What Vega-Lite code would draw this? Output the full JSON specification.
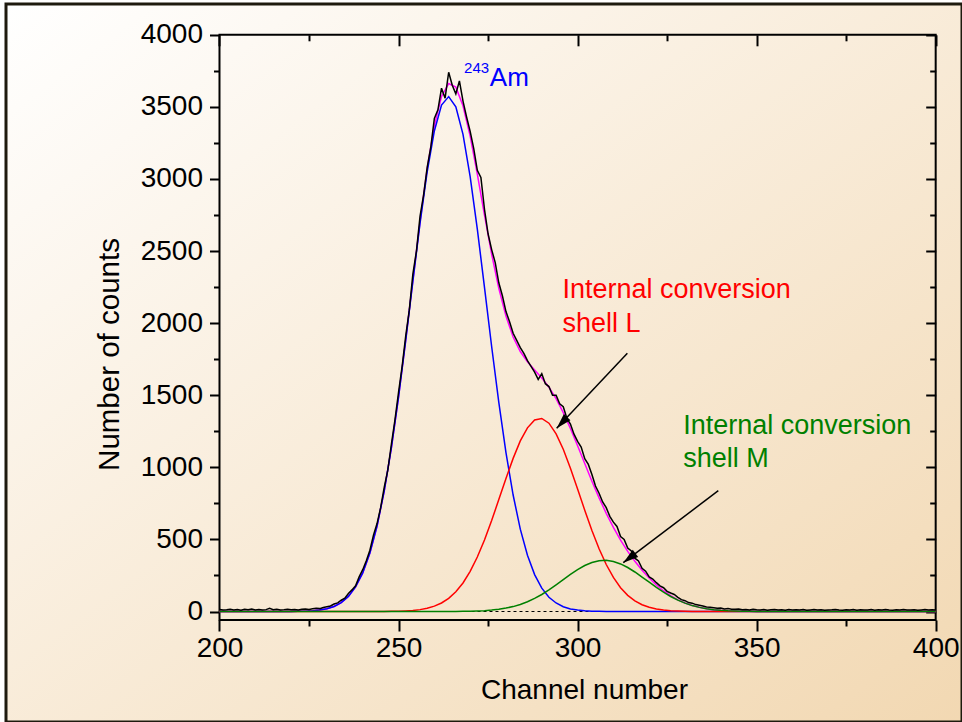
{
  "$schema": "https://vega.github.io/schema/vega-lite/v6.json",
  "width": 956,
  "height": 718,
  "autosize": {"type": "none"},
  "padding": {"left": 6, "top": 4, "right": 0, "bottom": 0},
  "background": "#ffffff",
  "config": {
    "font": "Liberation Sans",
    "view": {
      "stroke": "#1e1a0e",
      "strokeWidth": 3,
      "fill": {"gradient": "linear", "x1": 0, "y1": 0, "x2": 1, "y2": 1,
        "stops": [{"offset": 0, "color": "#ffffff"}, {"offset": 1, "color": "#f2d8b2"}]}
    },
    "axis": {
      "domain": false, "grid": false, "tickColor": "#000000", "tickWidth": 2,
      "labelColor": "#000000", "labelFont": "Liberation Sans", "labelFontSize": 28,
      "titleFont": "Liberation Sans", "titleFontSize": 28, "titleColor": "#000000",
      "titleFontWeight": "normal", "labelOverlap": false, "labelFlush": false
    }
  },
  "datasets": {
    "fits": [
      {"c":200,"am":0,"l":0,"m":0,"fit":0},
      {"c":210,"am":0,"l":0,"m":0,"fit":0},
      {"c":220,"am":0.6,"l":0,"m":0,"fit":0.6},
      {"c":222,"am":1.2,"l":0,"m":0,"fit":1.2},
      {"c":224,"am":2.6,"l":0,"m":0,"fit":2.6},
      {"c":226,"am":5.3,"l":0,"m":0,"fit":5.3},
      {"c":228,"am":10.3,"l":0,"m":0,"fit":10.3},
      {"c":230,"am":19.5,"l":0,"m":0,"fit":19.5},
      {"c":232,"am":35,"l":0,"m":0,"fit":35},
      {"c":234,"am":62,"l":0,"m":0,"fit":62},
      {"c":236,"am":105,"l":0,"m":0,"fit":105},
      {"c":238,"am":171,"l":0,"m":0,"fit":171},
      {"c":240,"am":268,"l":0,"m":0,"fit":268},
      {"c":242,"am":406,"l":0,"m":0,"fit":406},
      {"c":244,"am":593,"l":0,"m":0,"fit":593},
      {"c":246,"am":835,"l":0,"m":0,"fit":835},
      {"c":248,"am":1134,"l":1,"m":0,"fit":1135},
      {"c":250,"am":1487,"l":2,"m":0,"fit":1489},
      {"c":252,"am":1879,"l":4,"m":0,"fit":1883},
      {"c":254,"am":2289,"l":7,"m":0,"fit":2296},
      {"c":256,"am":2691,"l":13,"m":0,"fit":2704},
      {"c":258,"am":3050,"l":22,"m":0,"fit":3072},
      {"c":260,"am":3333,"l":37,"m":0,"fit":3370},
      {"c":262,"am":3513,"l":59,"m":0,"fit":3572},
      {"c":264,"am":3571,"l":91,"m":0,"fit":3662},
      {"c":266,"am":3500,"l":137,"m":0,"fit":3637},
      {"c":268,"am":3309,"l":198,"m":1,"fit":3508},
      {"c":270,"am":3016,"l":279,"m":2,"fit":3297},
      {"c":272,"am":2652,"l":378,"m":4,"fit":3034},
      {"c":274,"am":2248,"l":496,"m":6,"fit":2750},
      {"c":276,"am":1838,"l":631,"m":10,"fit":2479},
      {"c":278,"am":1450,"l":776,"m":16,"fit":2242},
      {"c":280,"am":1102,"l":923,"m":24,"fit":2049},
      {"c":282,"am":808,"l":1062,"m":34,"fit":1904},
      {"c":284,"am":571,"l":1183,"m":49,"fit":1803},
      {"c":286,"am":390,"l":1274,"m":68,"fit":1732},
      {"c":288,"am":256,"l":1328,"m":91,"fit":1675},
      {"c":290,"am":162,"l":1339,"m":118,"fit":1619},
      {"c":292,"am":99,"l":1306,"m":150,"fit":1555},
      {"c":294,"am":59,"l":1232,"m":185,"fit":1476},
      {"c":296,"am":33,"l":1125,"m":221,"fit":1379},
      {"c":298,"am":18,"l":994,"m":257,"fit":1269},
      {"c":300,"am":10,"l":850,"m":290,"fit":1150},
      {"c":302,"am":5,"l":703,"m":319,"fit":1027},
      {"c":304,"am":2,"l":562,"m":340,"fit":904},
      {"c":306,"am":1,"l":435,"m":352,"fit":788},
      {"c":308,"am":0,"l":326,"m":355,"fit":681},
      {"c":310,"am":0,"l":236,"m":347,"fit":583},
      {"c":312,"am":0,"l":165,"m":330,"fit":495},
      {"c":314,"am":0,"l":112,"m":305,"fit":417},
      {"c":316,"am":0,"l":74,"m":274,"fit":348},
      {"c":318,"am":0,"l":47,"m":239,"fit":286},
      {"c":320,"am":0,"l":29,"m":203,"fit":232},
      {"c":322,"am":0,"l":17,"m":167,"fit":184},
      {"c":324,"am":0,"l":10,"m":134,"fit":144},
      {"c":326,"am":0,"l":5.5,"m":104,"fit":110},
      {"c":328,"am":0,"l":3,"m":78.5,"fit":81},
      {"c":330,"am":0,"l":1.5,"m":58,"fit":59},
      {"c":332,"am":0,"l":0.7,"m":41,"fit":42},
      {"c":334,"am":0,"l":0.3,"m":28.5,"fit":29},
      {"c":336,"am":0,"l":0,"m":19,"fit":19},
      {"c":338,"am":0,"l":0,"m":12.6,"fit":12.6},
      {"c":340,"am":0,"l":0,"m":8,"fit":8},
      {"c":342,"am":0,"l":0,"m":4.9,"fit":4.9},
      {"c":344,"am":0,"l":0,"m":3,"fit":3},
      {"c":346,"am":0,"l":0,"m":1.7,"fit":1.7},
      {"c":348,"am":0,"l":0,"m":1,"fit":1},
      {"c":350,"am":0,"l":0,"m":0.5,"fit":0.5},
      {"c":360,"am":0,"l":0,"m":0,"fit":0},
      {"c":380,"am":0,"l":0,"m":0,"fit":0},
      {"c":400,"am":0,"l":0,"m":0,"fit":0}
    ],
    "obs": [
      {"c":200,"n":14},{"c":201,"n":10},{"c":202,"n":12},{"c":203,"n":16},{"c":204,"n":11},
      {"c":205,"n":13},{"c":206,"n":9},{"c":207,"n":15},{"c":208,"n":12},{"c":209,"n":18},
      {"c":210,"n":11},{"c":211,"n":14},{"c":212,"n":10},{"c":213,"n":13},{"c":214,"n":22},
      {"c":215,"n":12},{"c":216,"n":15},{"c":217,"n":11},{"c":218,"n":13},{"c":219,"n":16},
      {"c":220,"n":12},{"c":221,"n":14},{"c":222,"n":11},{"c":223,"n":15},{"c":224,"n":17},
      {"c":225,"n":14},{"c":226,"n":19},{"c":227,"n":22},{"c":228,"n":20},{"c":229,"n":28},
      {"c":230,"n":33},{"c":231,"n":38},{"c":232,"n":52},{"c":233,"n":60},{"c":234,"n":78},
      {"c":235,"n":92},{"c":236,"n":125},{"c":237,"n":150},{"c":238,"n":178},{"c":239,"n":240},
      {"c":240,"n":290},{"c":241,"n":352},{"c":242,"n":425},{"c":243,"n":530},{"c":244,"n":610},
      {"c":245,"n":720},{"c":246,"n":860},{"c":247,"n":980},{"c":248,"n":1160},{"c":249,"n":1330},
      {"c":250,"n":1520},{"c":251,"n":1700},{"c":252,"n":1910},{"c":253,"n":2090},{"c":254,"n":2340},
      {"c":255,"n":2500},{"c":256,"n":2740},{"c":257,"n":2890},{"c":258,"n":3080},{"c":259,"n":3220},
      {"c":260,"n":3420},{"c":261,"n":3480},{"c":262,"n":3630},{"c":263,"n":3560},{"c":264,"n":3740},
      {"c":265,"n":3650},{"c":266,"n":3590},{"c":267,"n":3680},{"c":268,"n":3540},{"c":269,"n":3430},
      {"c":270,"n":3330},{"c":271,"n":3210},{"c":272,"n":3060},{"c":273,"n":3010},{"c":274,"n":2790},
      {"c":275,"n":2620},{"c":276,"n":2510},{"c":277,"n":2420},{"c":278,"n":2280},{"c":279,"n":2190},
      {"c":280,"n":2080},{"c":281,"n":2010},{"c":282,"n":1930},{"c":283,"n":1880},{"c":284,"n":1830},
      {"c":285,"n":1790},{"c":286,"n":1740},{"c":287,"n":1700},{"c":288,"n":1660},{"c":289,"n":1610},
      {"c":290,"n":1650},{"c":291,"n":1580},{"c":292,"n":1560},{"c":293,"n":1500},{"c":294,"n":1500},
      {"c":295,"n":1440},{"c":296,"n":1420},{"c":297,"n":1340},{"c":298,"n":1300},{"c":299,"n":1230},
      {"c":300,"n":1180},{"c":301,"n":1140},{"c":302,"n":1060},{"c":303,"n":1020},{"c":304,"n":950},
      {"c":305,"n":870},{"c":306,"n":820},{"c":307,"n":760},{"c":308,"n":720},{"c":309,"n":660},
      {"c":310,"n":620},{"c":311,"n":590},{"c":312,"n":520},{"c":313,"n":500},{"c":314,"n":440},
      {"c":315,"n":420},{"c":316,"n":370},{"c":317,"n":350},{"c":318,"n":300},{"c":319,"n":280},
      {"c":320,"n":240},{"c":321,"n":225},{"c":322,"n":200},{"c":323,"n":178},{"c":324,"n":165},
      {"c":325,"n":140},{"c":326,"n":128},{"c":327,"n":118},{"c":328,"n":98},{"c":329,"n":82},
      {"c":330,"n":75},{"c":331,"n":62},{"c":332,"n":58},{"c":333,"n":48},{"c":334,"n":44},
      {"c":335,"n":38},{"c":336,"n":32},{"c":337,"n":30},{"c":338,"n":26},{"c":339,"n":22},
      {"c":340,"n":24},{"c":341,"n":18},{"c":342,"n":20},{"c":343,"n":16},{"c":344,"n":15},
      {"c":345,"n":18},{"c":346,"n":13},{"c":347,"n":14},{"c":348,"n":11},{"c":349,"n":15},
      {"c":350,"n":12},{"c":351,"n":11},{"c":352,"n":13},{"c":353,"n":9},{"c":354,"n":12},
      {"c":355,"n":14},{"c":356,"n":10},{"c":357,"n":12},{"c":358,"n":8},{"c":359,"n":13},
      {"c":360,"n":11},{"c":361,"n":12},{"c":362,"n":10},{"c":363,"n":14},{"c":364,"n":9},
      {"c":365,"n":11},{"c":366,"n":13},{"c":367,"n":10},{"c":368,"n":12},{"c":369,"n":9},
      {"c":370,"n":11},{"c":371,"n":12},{"c":372,"n":14},{"c":373,"n":10},{"c":374,"n":8},
      {"c":375,"n":12},{"c":376,"n":11},{"c":377,"n":13},{"c":378,"n":9},{"c":379,"n":12},
      {"c":380,"n":10},{"c":381,"n":11},{"c":382,"n":13},{"c":383,"n":9},{"c":384,"n":12},
      {"c":385,"n":10},{"c":386,"n":14},{"c":387,"n":11},{"c":388,"n":9},{"c":389,"n":12},
      {"c":390,"n":10},{"c":391,"n":13},{"c":392,"n":11},{"c":393,"n":10},{"c":394,"n":12},
      {"c":395,"n":9},{"c":396,"n":11},{"c":397,"n":13},{"c":398,"n":10},{"c":399,"n":12},
      {"c":400,"n":11}
    ],
    "notes": [
      {"k":"sup","t":"243","c":268.3,"v":3733},
      {"k":"am","t":"Am","c":275.5,"v":3645},
      {"k":"L","t":"Internal conversion","c":295.8,"v":2172},
      {"k":"L","t":"shell L","c":295.8,"v":1941},
      {"k":"M","t":"Internal conversion","c":329.5,"v":1231},
      {"k":"M","t":"shell M","c":329.5,"v":1004}
    ],
    "arrows": [
      {"id":"L","c":313.9,"v":1791,"c2":294.16,"v2":1270.6},
      {"id":"M","c":339.3,"v":838,"c2":312.76,"v2":338.5}
    ]
  },
  "resolve": {"axis": {"x": "independent", "y": "independent"}},
  "layer": [
    {
      "data": {"values": [{}]},
      "mark": {"type": "rect", "fill": "transparent", "stroke": "#000000", "strokeWidth": 2},
      "encoding": {
        "x": {"datum": 200, "type": "quantitative",
          "scale": {"domain": [140.38, 407.35], "nice": false, "zero": false},
          "axis": {"orient": "bottom", "offset": -102, "values": [200, 250, 300, 350, 400], "tickSize": 11,
            "labelPadding": 3, "format": "d", "title": "Channel number", "titleX": 578, "titleY": 78,
            "titleBaseline": "alphabetic", "titleAlign": "center"}},
        "x2": {"datum": 400},
        "y": {"datum": -59, "type": "quantitative",
          "scale": {"domain": [-766.4, 4213.5], "nice": false, "zero": false},
          "axis": {"orient": "left", "offset": -213.5, "values": [0, 500, 1000, 1500, 2000, 2500, 3000, 3500, 4000],
            "tickSize": 10, "labelPadding": 7, "format": "d", "title": "Number of counts", "titleFontSize": 29.5,
            "titleX": -101.5, "titleY": 350, "titleBaseline": "alphabetic", "titleAngle": -90, "titleAlign": "center"}},
        "y2": {"datum": 4000}
      }
    },
    {
      "data": {"values": [{}]},
      "mark": {"type": "rule", "color": "#000000", "strokeWidth": 1, "strokeDash": [3, 3]},
      "encoding": {
        "x": {"datum": 200, "type": "quantitative",
          "scale": {"domain": [140.38, 407.35], "nice": false, "zero": false},
          "axis": {"orient": "bottom", "offset": -102, "values": [225, 275, 325, 375], "tickSize": 6, "labels": false, "title": null}},
        "x2": {"datum": 400},
        "y": {"datum": 0, "type": "quantitative",
          "scale": {"domain": [-766.4, 4213.5], "nice": false, "zero": false},
          "axis": {"orient": "left", "offset": -213.5, "values": [250, 750, 1250, 1750, 2250, 2750, 3250, 3750], "tickSize": 6, "labels": false, "title": null}}
      }
    },
    {
      "data": {"name": "fits"},
      "mark": {"type": "line", "color": "#ff00ff", "strokeWidth": 1.5},
      "encoding": {
        "x": {"field": "c", "type": "quantitative",
          "scale": {"domain": [140.38, 407.35], "nice": false, "zero": false},
          "axis": {"orient": "top", "offset": -30.8, "values": [200, 250, 300, 350, 400], "tickSize": -11, "labels": false, "title": null}},
        "y": {"field": "fit", "type": "quantitative",
          "scale": {"domain": [-766.4, 4213.5], "nice": false, "zero": false},
          "axis": {"orient": "right", "offset": -26.3, "values": [0, 500, 1000, 1500, 2000, 2500, 3000, 3500, 4000], "tickSize": -10, "labels": false, "title": null}}
      }
    },
    {
      "data": {"name": "fits"},
      "mark": {"type": "line", "color": "#0000ff", "strokeWidth": 1.5},
      "encoding": {
        "x": {"field": "c", "type": "quantitative",
          "scale": {"domain": [140.38, 407.35], "nice": false, "zero": false},
          "axis": {"orient": "top", "offset": -30.8, "values": [225, 275, 325, 375], "tickSize": -6, "labels": false, "title": null}},
        "y": {"field": "am", "type": "quantitative",
          "scale": {"domain": [-766.4, 4213.5], "nice": false, "zero": false},
          "axis": {"orient": "right", "offset": -26.3, "values": [250, 750, 1250, 1750, 2250, 2750, 3250, 3750], "tickSize": -6, "labels": false, "title": null}}
      }
    },
    {
      "data": {"name": "fits"},
      "mark": {"type": "line", "color": "#ff0000", "strokeWidth": 1.5},
      "encoding": {
        "x": {"field": "c", "type": "quantitative", "scale": {"domain": [140.38, 407.35], "nice": false, "zero": false}, "axis": null},
        "y": {"field": "l", "type": "quantitative", "scale": {"domain": [-766.4, 4213.5], "nice": false, "zero": false}, "axis": null}
      }
    },
    {
      "data": {"name": "fits"},
      "mark": {"type": "line", "color": "#008000", "strokeWidth": 1.5},
      "encoding": {
        "x": {"field": "c", "type": "quantitative", "scale": {"domain": [140.38, 407.35], "nice": false, "zero": false}, "axis": null},
        "y": {"field": "m", "type": "quantitative", "scale": {"domain": [-766.4, 4213.5], "nice": false, "zero": false}, "axis": null}
      }
    },
    {
      "data": {"name": "obs"},
      "mark": {"type": "line", "color": "#000000", "strokeWidth": 1.5},
      "encoding": {
        "x": {"field": "c", "type": "quantitative", "scale": {"domain": [140.38, 407.35], "nice": false, "zero": false}, "axis": null},
        "y": {"field": "n", "type": "quantitative", "scale": {"domain": [-766.4, 4213.5], "nice": false, "zero": false}, "axis": null}
      }
    },
    {
      "data": {"name": "arrows"},
      "mark": {"type": "rule", "color": "#000000", "strokeWidth": 1.5},
      "encoding": {
        "x": {"field": "c", "type": "quantitative", "scale": {"domain": [140.38, 407.35], "nice": false, "zero": false}, "axis": null},
        "y": {"field": "v", "type": "quantitative", "scale": {"domain": [-766.4, 4213.5], "nice": false, "zero": false}, "axis": null},
        "x2": {"field": "c2"},
        "y2": {"field": "v2"}
      }
    },
    {
      "data": {"name": "arrows"},
      "transform": [{"filter": "datum.id === 'L'"}],
      "mark": {"type": "point", "shape": "M0,0L0.5,1.7L-0.5,1.7Z", "size": 324, "filled": true, "color": "#000000", "opacity": 1, "strokeWidth": 0, "angle": 223.3},
      "encoding": {
        "x": {"field": "c2", "type": "quantitative", "scale": {"domain": [140.38, 407.35], "nice": false, "zero": false}, "axis": null},
        "y": {"field": "v2", "type": "quantitative", "scale": {"domain": [-766.4, 4213.5], "nice": false, "zero": false}, "axis": null}
      }
    },
    {
      "data": {"name": "arrows"},
      "transform": [{"filter": "datum.id === 'M'"}],
      "mark": {"type": "point", "shape": "M0,0L0.5,1.7L-0.5,1.7Z", "size": 324, "filled": true, "color": "#000000", "opacity": 1, "strokeWidth": 0, "angle": 232.8},
      "encoding": {
        "x": {"field": "c2", "type": "quantitative", "scale": {"domain": [140.38, 407.35], "nice": false, "zero": false}, "axis": null},
        "y": {"field": "v2", "type": "quantitative", "scale": {"domain": [-766.4, 4213.5], "nice": false, "zero": false}, "axis": null}
      }
    },
    {
      "data": {"name": "notes"},
      "transform": [{"filter": "datum.k === 'sup'"}],
      "mark": {"type": "text", "align": "left", "baseline": "alphabetic", "font": "Liberation Sans", "fontSize": 15, "color": "#0000ff"},
      "encoding": {
        "x": {"field": "c", "type": "quantitative", "scale": {"domain": [140.38, 407.35], "nice": false, "zero": false}, "axis": null},
        "y": {"field": "v", "type": "quantitative", "scale": {"domain": [-766.4, 4213.5], "nice": false, "zero": false}, "axis": null},
        "text": {"field": "t"}
      }
    },
    {
      "data": {"name": "notes"},
      "transform": [{"filter": "datum.k === 'am'"}],
      "mark": {"type": "text", "align": "left", "baseline": "alphabetic", "font": "Liberation Sans", "fontSize": 26, "color": "#0000ff"},
      "encoding": {
        "x": {"field": "c", "type": "quantitative", "scale": {"domain": [140.38, 407.35], "nice": false, "zero": false}, "axis": null},
        "y": {"field": "v", "type": "quantitative", "scale": {"domain": [-766.4, 4213.5], "nice": false, "zero": false}, "axis": null},
        "text": {"field": "t"}
      }
    },
    {
      "data": {"name": "notes"},
      "transform": [{"filter": "datum.k === 'L'"}],
      "mark": {"type": "text", "align": "left", "baseline": "alphabetic", "font": "Liberation Sans", "fontSize": 27, "color": "#ff0000"},
      "encoding": {
        "x": {"field": "c", "type": "quantitative", "scale": {"domain": [140.38, 407.35], "nice": false, "zero": false}, "axis": null},
        "y": {"field": "v", "type": "quantitative", "scale": {"domain": [-766.4, 4213.5], "nice": false, "zero": false}, "axis": null},
        "text": {"field": "t"}
      }
    },
    {
      "data": {"name": "notes"},
      "transform": [{"filter": "datum.k === 'M'"}],
      "mark": {"type": "text", "align": "left", "baseline": "alphabetic", "font": "Liberation Sans", "fontSize": 27, "color": "#008000"},
      "encoding": {
        "x": {"field": "c", "type": "quantitative", "scale": {"domain": [140.38, 407.35], "nice": false, "zero": false}, "axis": null},
        "y": {"field": "v", "type": "quantitative", "scale": {"domain": [-766.4, 4213.5], "nice": false, "zero": false}, "axis": null},
        "text": {"field": "t"}
      }
    }
  ]
}
